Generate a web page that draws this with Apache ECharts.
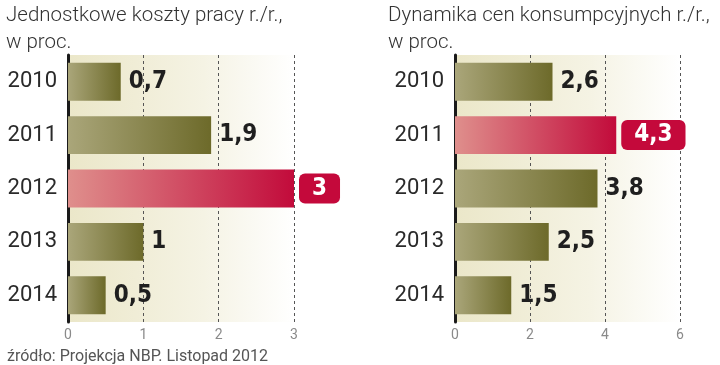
<!DOCTYPE html>
<html><head><meta charset="utf-8">
<script src="https://cdn.jsdelivr.net/npm/echarts@6/dist/echarts.min.js"></script>
<style>html,body{margin:0;padding:0;background:#fff}#c{width:720px;height:365px}</style>
</head><body><div id="c"></div>
<script>
var years = ['2010','2011','2012','2013','2014'];
var laborCost = [0.7, 1.9, 3, 1, 0.5];
var cpi = [2.6, 4.3, 3.8, 2.5, 1.5];
var laborHighlight = 2;
var cpiHighlight = 1;
var laborTicks = [0, 1, 2, 3];
var cpiTicks = [0, 2, 4, 6];
var titleLeft = 'Jednostkowe koszty pracy r./r.,\nw proc.';
var titleRight = 'Dynamika cen konsumpcyjnych r./r.,\nw proc.';
var sourceText = 'źródło: Projekcja NBP. Listopad 2012';

var olive = new echarts.graphic.LinearGradient(0,0,1,0,[{offset:0,color:'#aaa67a'},{offset:1,color:'#6d6a2a'}]);
var red = new echarts.graphic.LinearGradient(0,0,1,0,[{offset:0,color:'#df8f8c'},{offset:1,color:'#c20b3b'}]);
var labelFont = '"DejaVu Sans Condensed","Liberation Sans Narrow",sans-serif';

function buildData(vals, hi){
  return vals.map(function(v,i){
    var fmt = String(v).replace('.', ',');
    var item = {value: v, itemStyle:{color: i===hi ? red : olive}};
    if(i===hi){
      item.label = {show:true, position:'right', distance:5, formatter: fmt, color:'#fff',
        backgroundColor:'#c4093b', borderRadius:6, padding:[4,13,2,13], fontSize:24, fontWeight:'bold', fontFamily:labelFont};
    }
    return item;
  });
}
function bg(){
  return new echarts.graphic.LinearGradient(0,0,1,0,[{offset:0,color:'#ebe7c9'},{offset:0.6,color:'#f5f3e4'},{offset:1,color:'#ffffff'}]);
}
var chart = echarts.init(document.getElementById('c'), null, {renderer:'canvas'});
function vAxis(gi, max, interval){
  return {type:'value', gridIndex:gi, min:0, max:max, interval:interval,
    axisLine:{show:false}, axisTick:{show:false},
    axisLabel:{color:'#8a8a8a', fontSize:14, margin:6, fontFamily:'Roboto'},
    splitLine:{show:true, lineStyle:{type:[3,3], color:'#555', width:1}}};
}
function cAxis(gi){
  return {type:'category', gridIndex:gi, data:years, inverse:true,
    axisLine:{show:true, lineStyle:{color:'#1a1a1a', width:3}}, axisTick:{show:false},
    axisLabel:{color:'#2a2a2a', fontSize:22, margin:11, fontFamily:'Roboto'}};
}
var titleStyle = {fontSize:20.5, fontWeight:300, color:'#333', lineHeight:27, fontFamily:'Roboto'};
chart.setOption({
  animation:false,
  title:[
    {text:titleLeft, left:1, top:-3, textStyle:titleStyle},
    {text:titleRight, left:383, top:-3, textStyle:titleStyle},
    {text:sourceText, left:2, top:344, textStyle:{fontSize:16, fontWeight:'normal', color:'#555', fontFamily:'Roboto'}}
  ],
  grid:[
    {left:68, right:426, top:55, bottom:43, show:true, backgroundColor:bg(), borderWidth:0},
    {left:455, right:40, top:55, bottom:43, show:true, backgroundColor:bg(), borderWidth:0}
  ],
  xAxis:[vAxis(0, laborTicks[laborTicks.length-1], laborTicks[1]-laborTicks[0]), vAxis(1, cpiTicks[cpiTicks.length-1], cpiTicks[1]-cpiTicks[0])],
  yAxis:[cAxis(0), cAxis(1)],
  series:[
    {type:'bar', xAxisIndex:0, yAxisIndex:0, barWidth:'71%', data:buildData(laborCost, laborHighlight),
      label:{show:true, position:'right', distance:8, color:'#1f1f1f', fontSize:24, fontWeight:'bold', fontFamily:labelFont,
        formatter:function(p){return String(p.value).replace('.', ',');}}},
    {type:'bar', xAxisIndex:1, yAxisIndex:1, barWidth:'71%', data:buildData(cpi, cpiHighlight),
      label:{show:true, position:'right', distance:8, color:'#1f1f1f', fontSize:24, fontWeight:'bold', fontFamily:labelFont,
        formatter:function(p){return String(p.value).replace('.', ',');}}}
  ]
});
</script></body></html>
